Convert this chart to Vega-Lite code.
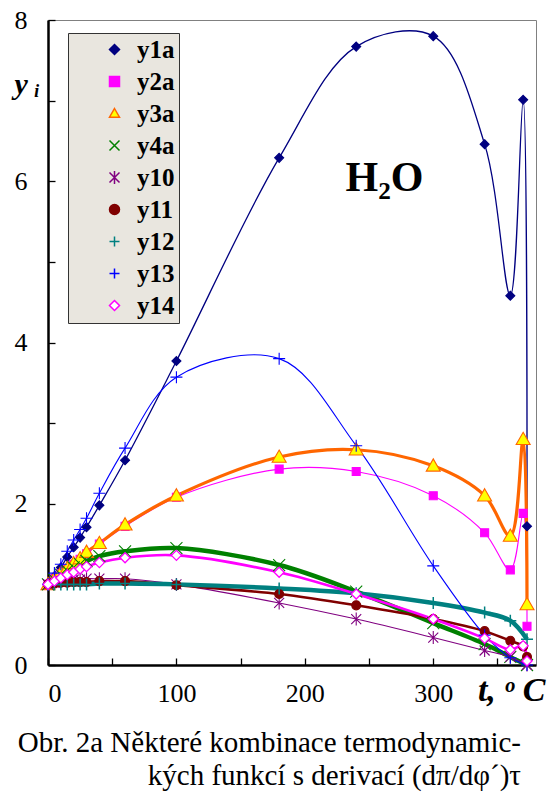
{
  "$schema": "https://vega.github.io/schema/vega-lite/v6.json",
  "width": 488,
  "height": 645,
  "autosize": "none",
  "padding": {"left": 48, "top": 20, "right": 14, "bottom": 131},
  "background": "white",
  "title": {
    "text": "Obr. 2a  Některé kombinace termodynamic-",
    "subtitle": "kých funkcí s derivací (dπ/dφ´)τ",
    "orient": "bottom",
    "anchor": "end",
    "frame": "group",
    "offset": 22,
    "dx": -15,
    "font": "Liberation Serif",
    "fontSize": 29,
    "fontWeight": "normal",
    "color": "black",
    "subtitleFont": "Liberation Serif",
    "subtitleFontSize": 29,
    "subtitleColor": "black",
    "subtitlePadding": 4
  },
  "data": {
    "values": [
      {"s": "y1a", "t": 0, "v": 1.0}, {"s": "y1a", "t": 5, "v": 1.1}, {"s": "y1a", "t": 10, "v": 1.21}, {"s": "y1a", "t": 15, "v": 1.34}, {"s": "y1a", "t": 20, "v": 1.46}, {"s": "y1a", "t": 25, "v": 1.58}, {"s": "y1a", "t": 30, "v": 1.71}, {"s": "y1a", "t": 40, "v": 1.98}, {"s": "y1a", "t": 60, "v": 2.54}, {"s": "y1a", "t": 100, "v": 3.77}, {"s": "y1a", "t": 180, "v": 6.29}, {"s": "y1a", "t": 240, "v": 7.67}, {"s": "y1a", "t": 300, "v": 7.8}, {"s": "y1a", "t": 340, "v": 6.46}, {"s": "y1a", "t": 360, "v": 4.58}, {"s": "y1a", "t": 370, "v": 7.01}, {"s": "y1a", "t": 373, "v": 1.72},
      {"s": "y2a", "t": 0, "v": 1.0}, {"s": "y2a", "t": 5, "v": 1.07}, {"s": "y2a", "t": 10, "v": 1.13}, {"s": "y2a", "t": 15, "v": 1.19}, {"s": "y2a", "t": 20, "v": 1.25}, {"s": "y2a", "t": 25, "v": 1.31}, {"s": "y2a", "t": 30, "v": 1.38}, {"s": "y2a", "t": 40, "v": 1.5}, {"s": "y2a", "t": 60, "v": 1.72}, {"s": "y2a", "t": 100, "v": 2.08}, {"s": "y2a", "t": 180, "v": 2.43}, {"s": "y2a", "t": 240, "v": 2.4}, {"s": "y2a", "t": 300, "v": 2.1}, {"s": "y2a", "t": 340, "v": 1.64}, {"s": "y2a", "t": 360, "v": 1.18}, {"s": "y2a", "t": 370, "v": 1.88}, {"s": "y2a", "t": 373, "v": 0.48},
      {"s": "y3a", "t": 0, "v": 1.0}, {"s": "y3a", "t": 5, "v": 1.07}, {"s": "y3a", "t": 10, "v": 1.14}, {"s": "y3a", "t": 15, "v": 1.2}, {"s": "y3a", "t": 20, "v": 1.26}, {"s": "y3a", "t": 25, "v": 1.32}, {"s": "y3a", "t": 30, "v": 1.4}, {"s": "y3a", "t": 40, "v": 1.51}, {"s": "y3a", "t": 60, "v": 1.74}, {"s": "y3a", "t": 100, "v": 2.1}, {"s": "y3a", "t": 180, "v": 2.58}, {"s": "y3a", "t": 240, "v": 2.67}, {"s": "y3a", "t": 300, "v": 2.47}, {"s": "y3a", "t": 340, "v": 2.1}, {"s": "y3a", "t": 360, "v": 1.6}, {"s": "y3a", "t": 370, "v": 2.8}, {"s": "y3a", "t": 373, "v": 0.75},
      {"s": "y4a", "t": 0, "v": 1.0}, {"s": "y4a", "t": 5, "v": 1.06}, {"s": "y4a", "t": 10, "v": 1.12}, {"s": "y4a", "t": 15, "v": 1.17}, {"s": "y4a", "t": 20, "v": 1.21}, {"s": "y4a", "t": 25, "v": 1.25}, {"s": "y4a", "t": 30, "v": 1.29}, {"s": "y4a", "t": 40, "v": 1.35}, {"s": "y4a", "t": 60, "v": 1.41}, {"s": "y4a", "t": 100, "v": 1.45}, {"s": "y4a", "t": 180, "v": 1.24}, {"s": "y4a", "t": 240, "v": 0.91}, {"s": "y4a", "t": 300, "v": 0.52}, {"s": "y4a", "t": 340, "v": 0.26}, {"s": "y4a", "t": 360, "v": 0.1}, {"s": "y4a", "t": 373, "v": 0.0},
      {"s": "y10", "t": 0, "v": 1.0}, {"s": "y10", "t": 5, "v": 1.02}, {"s": "y10", "t": 10, "v": 1.04}, {"s": "y10", "t": 15, "v": 1.05}, {"s": "y10", "t": 20, "v": 1.06}, {"s": "y10", "t": 25, "v": 1.06}, {"s": "y10", "t": 30, "v": 1.07}, {"s": "y10", "t": 40, "v": 1.07}, {"s": "y10", "t": 60, "v": 1.07}, {"s": "y10", "t": 100, "v": 1.0}, {"s": "y10", "t": 180, "v": 0.77}, {"s": "y10", "t": 240, "v": 0.57}, {"s": "y10", "t": 300, "v": 0.34}, {"s": "y10", "t": 340, "v": 0.18}, {"s": "y10", "t": 360, "v": 0.1}, {"s": "y10", "t": 373, "v": 0.0},
      {"s": "y11", "t": 0, "v": 1.0}, {"s": "y11", "t": 5, "v": 1.01}, {"s": "y11", "t": 10, "v": 1.02}, {"s": "y11", "t": 15, "v": 1.02}, {"s": "y11", "t": 20, "v": 1.03}, {"s": "y11", "t": 25, "v": 1.03}, {"s": "y11", "t": 30, "v": 1.03}, {"s": "y11", "t": 40, "v": 1.04}, {"s": "y11", "t": 60, "v": 1.04}, {"s": "y11", "t": 100, "v": 0.99}, {"s": "y11", "t": 180, "v": 0.88}, {"s": "y11", "t": 240, "v": 0.74}, {"s": "y11", "t": 300, "v": 0.57}, {"s": "y11", "t": 340, "v": 0.42}, {"s": "y11", "t": 360, "v": 0.3}, {"s": "y11", "t": 370, "v": 0.23}, {"s": "y11", "t": 373, "v": 0.1},
      {"s": "y12", "t": 0, "v": 1.0}, {"s": "y12", "t": 5, "v": 1.0}, {"s": "y12", "t": 10, "v": 1.0}, {"s": "y12", "t": 15, "v": 1.0}, {"s": "y12", "t": 20, "v": 1.0}, {"s": "y12", "t": 25, "v": 1.0}, {"s": "y12", "t": 30, "v": 1.0}, {"s": "y12", "t": 40, "v": 1.01}, {"s": "y12", "t": 60, "v": 1.01}, {"s": "y12", "t": 100, "v": 1.0}, {"s": "y12", "t": 180, "v": 0.95}, {"s": "y12", "t": 240, "v": 0.89}, {"s": "y12", "t": 300, "v": 0.77}, {"s": "y12", "t": 340, "v": 0.65}, {"s": "y12", "t": 360, "v": 0.55}, {"s": "y12", "t": 373, "v": 0.32},
      {"s": "y13", "t": 0, "v": 1.0}, {"s": "y13", "t": 5, "v": 1.14}, {"s": "y13", "t": 10, "v": 1.25}, {"s": "y13", "t": 15, "v": 1.41}, {"s": "y13", "t": 20, "v": 1.55}, {"s": "y13", "t": 25, "v": 1.68}, {"s": "y13", "t": 30, "v": 1.82}, {"s": "y13", "t": 40, "v": 2.13}, {"s": "y13", "t": 60, "v": 2.69}, {"s": "y13", "t": 100, "v": 3.57}, {"s": "y13", "t": 180, "v": 3.8}, {"s": "y13", "t": 240, "v": 2.72}, {"s": "y13", "t": 300, "v": 1.23}, {"s": "y13", "t": 340, "v": 0.37}, {"s": "y13", "t": 360, "v": 0.09}, {"s": "y13", "t": 373, "v": 0.0},
      {"s": "y14", "t": 0, "v": 1.0}, {"s": "y14", "t": 5, "v": 1.04}, {"s": "y14", "t": 10, "v": 1.08}, {"s": "y14", "t": 15, "v": 1.12}, {"s": "y14", "t": 20, "v": 1.15}, {"s": "y14", "t": 25, "v": 1.19}, {"s": "y14", "t": 30, "v": 1.22}, {"s": "y14", "t": 40, "v": 1.27}, {"s": "y14", "t": 60, "v": 1.33}, {"s": "y14", "t": 100, "v": 1.36}, {"s": "y14", "t": 180, "v": 1.15}, {"s": "y14", "t": 240, "v": 0.88}, {"s": "y14", "t": 300, "v": 0.57}, {"s": "y14", "t": 340, "v": 0.33}, {"s": "y14", "t": 360, "v": 0.19}, {"s": "y14", "t": 370, "v": 0.24}, {"s": "y14", "t": 373, "v": 0.05}
    ]
  },
  "encoding": {
    "x": {
      "field": "t",
      "type": "quantitative",
      "scale": {"domain": [0, 380], "nice": false},
      "axis": {
        "values": [0, 50, 100, 150, 200, 250, 300, 350],
        "labelExpr": "datum.value % 100 === 0 ? datum.label : ''",
        "labelPadding": 22,
        "title": "t, ᵒ C",
        "titleFont": "Liberation Serif",
        "titleFontSize": 34,
        "titleFontWeight": "bold",
        "titleFontStyle": "italic",
        "titleAnchor": "end",
        "titleAlign": "right",
        "titleBaseline": "alphabetic",
        "titleX": 497,
        "titleY": 35
      }
    },
    "y": {
      "field": "v",
      "type": "quantitative",
      "scale": {"domain": [0, 8], "nice": false},
      "axis": {
        "values": [0, 1, 2, 3, 4, 5, 6, 7, 8],
        "labelExpr": "datum.value % 2 === 0 ? datum.label : ''",
        "labelPadding": 28,
        "title": "y ᵢ",
        "titleFont": "Liberation Serif",
        "titleFontSize": 30,
        "titleFontWeight": "bold",
        "titleFontStyle": "italic",
        "titleAngle": 0,
        "titleAlign": "left",
        "titleBaseline": "alphabetic",
        "titleX": -34,
        "titleY": 73
      }
    }
  },
  "layer": [
    {
      "mark": {"type": "line", "interpolate": "catmull-rom"},
      "encoding": {
        "color": {
          "field": "s",
          "type": "nominal",
          "scale": {
            "domain": ["y1a", "y2a", "y3a", "y4a", "y10", "y11", "y12", "y13", "y14"],
            "range": ["#000080", "#ff00ff", "#ff6600", "#008000", "#800080", "#800000", "#008080", "#0000ff", "#ff00ff"]
          },
          "legend": {
            "title": null,
            "orient": "none",
            "legendX": 20,
            "legendY": 13,
            "labelExpr": "datum.label + '\u2003\u2005'"
          }
        },
        "strokeWidth": {
          "condition": [
            {"test": "datum.s === 'y1a'", "value": 1.3},
            {"test": "datum.s === 'y3a'", "value": 3.2},
            {"test": "datum.s === 'y4a'", "value": 4.5},
            {"test": "datum.s === 'y11'", "value": 2.6},
            {"test": "datum.s === 'y12'", "value": 4.5},
            {"test": "datum.s === 'y14'", "value": 2.6}
          ],
          "value": 1.1
        },
        "order": {"field": "t", "type": "quantitative"}
      }
    },
    {
      "mark": {"type": "point", "opacity": 1},
      "encoding": {
        "shape": {
          "field": "s",
          "type": "nominal",
          "scale": {
            "domain": ["y1a", "y2a", "y3a", "y4a", "y10", "y11", "y12", "y13", "y14"],
            "range": [
              "M0,-1L1,0L0,1L-1,0Z",
              "M-1,-1L1,-1L1,1L-1,1Z",
              "M0,-1L1,0.75L-1,0.75Z",
              "M-1,-1L1,1M-1,1L1,-1",
              "M-1,-1L1,1M-1,1L1,-1M0,-1.3L0,1.3",
              "M-1,0A1,1,0,1,1,1,0A1,1,0,1,1,-1,0Z",
              "M-1,0L1,0M0,-1L0,1",
              "M-1,0L1,0M0,-1L0,1",
              "M0,-1L1,0L0,1L-1,0Z"
            ]
          },
          "legend": null
        },
        "fill": {
          "field": "s",
          "type": "nominal",
          "scale": {
            "domain": ["y1a", "y2a", "y3a", "y4a", "y10", "y11", "y12", "y13", "y14"],
            "range": ["#000080", "#ff00ff", "#ffff00", "transparent", "transparent", "#800000", "transparent", "transparent", "#ffffff"]
          },
          "legend": null
        },
        "stroke": {
          "field": "s",
          "type": "nominal",
          "scale": {
            "domain": ["y1a", "y2a", "y3a", "y4a", "y10", "y11", "y12", "y13", "y14"],
            "range": ["#000080", "#ff00ff", "#ff6600", "#008000", "#800080", "#800000", "#008080", "#0000ff", "#ff00ff"]
          },
          "legend": null
        },
        "size": {
          "condition": [
            {"test": "datum.s === 'y2a'", "value": 64},
            {"test": "datum.s === 'y3a'", "value": 196},
            {"test": "datum.s === 'y4a'", "value": 144},
            {"test": "datum.s === 'y10'", "value": 100},
            {"test": "datum.s === 'y12'", "value": 144},
            {"test": "datum.s === 'y13'", "value": 144},
            {"test": "datum.s === 'y14'", "value": 100}
          ],
          "value": 81
        },
        "strokeWidth": {
          "condition": [
            {"test": "datum.s === 'y12'", "value": 1.5},
            {"test": "datum.s === 'y14'", "value": 1.3}
          ],
          "value": 1.1
        }
      }
    },
    {
      "data": {"values": [{"label": "H₂O", "t": 262, "v": 6.04}]},
      "mark": {
        "type": "text",
        "font": "Liberation Serif",
        "fontSize": 42,
        "fontWeight": "bold",
        "align": "center",
        "baseline": "middle",
        "fill": "black"
      },
      "encoding": {
        "text": {"field": "label", "type": "nominal"}
      }
    }
  ],
  "config": {
    "view": {"stroke": "#808080", "strokeWidth": 1},
    "axis": {
      "grid": false,
      "domainColor": "black",
      "domainWidth": 2.5,
      "tickColor": "black",
      "tickWidth": 1.3,
      "tickSize": -7,
      "labelFont": "Liberation Serif",
      "labelFontSize": 26,
      "labelColor": "black",
      "titleColor": "black"
    },
    "legend": {
      "fillColor": "#e9e6df",
      "strokeColor": "#333333",
      "strokeWidth": 1,
      "padding": 4,
      "symbolSize": 100,
      "symbolOffset": 30,
      "labelOffset": 10,
      "rowPadding": 6,
      "labelFont": "Liberation Serif",
      "labelFontSize": 25,
      "labelFontWeight": "bold",
      "labelColor": "black"
    }
  }
}
